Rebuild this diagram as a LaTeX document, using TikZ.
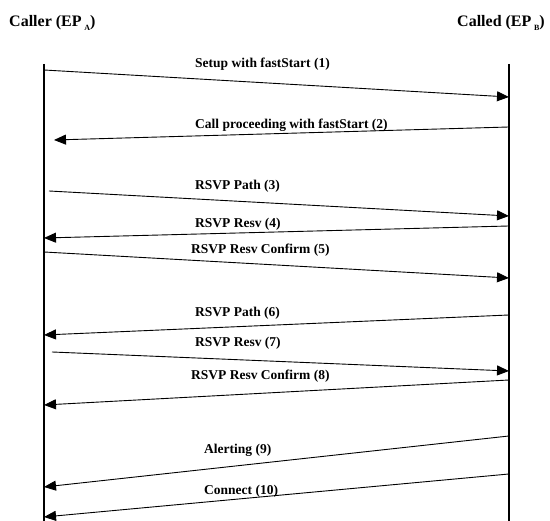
\documentclass[tikz,border=0pt]{standalone}
\usepackage{fontspec}
\setmainfont{Liberation Serif}
\usetikzlibrary{arrows.meta}
\begin{document}
\begin{tikzpicture}[x=1pt,y=1pt,
  msg/.style={-{Triangle[length=12pt,width=10pt]}, line width=0.9pt},
  life/.style={line width=1.3pt},
  lbl/.style={font=\bfseries\fontsize{13.5}{15}\selectfont, anchor=base west, inner sep=0pt},
  hdr/.style={font=\bfseries\fontsize{16}{18}\selectfont, anchor=base west, inner sep=0pt}]
\useasboundingbox (0,0) rectangle (550,521);
% headers
\node[hdr] (caller) at (9,494) {Caller (EP\,\raisebox{-4pt}{\fontsize{8}{9}\selectfont A})};
\node[hdr] (called) at (457,494) {Called (EP\,\raisebox{-4pt}{\fontsize{8}{9}\selectfont B})};
% lifelines
\coordinate (Atop) at (44,457); \coordinate (Abot) at (44,0);
\coordinate (Btop) at (509,457); \coordinate (Bbot) at (509,0);
\draw[life] (Atop) -- (Abot);
\draw[life] (Btop) -- (Bbot);
% message end points
\coordinate (a1) at (44,451);  \coordinate (b1) at (509,424);
\coordinate (b2) at (509,394); \coordinate (a2) at (54,381);
\coordinate (a3) at (49,330);  \coordinate (b3) at (509,305);
\coordinate (b4) at (509,295); \coordinate (a4) at (44,283);
\coordinate (a5) at (44,269);  \coordinate (b5) at (509,243);
\coordinate (b6) at (509,206); \coordinate (a6) at (44,186);
\coordinate (a7) at (52,169);  \coordinate (b7) at (509,150);
\coordinate (b8) at (509,141); \coordinate (a8) at (44,116);
\coordinate (b9) at (509,85);  \coordinate (a9) at (44,34);
\coordinate (b10) at (509,47); \coordinate (a10) at (44,4);
\draw[msg] (a1) -- (b1);
\draw[msg] (b2) -- (a2);
\draw[msg] (a3) -- (b3);
\draw[msg] (b4) -- (a4);
\draw[msg] (a5) -- (b5);
\draw[msg] (b6) -- (a6);
\draw[msg] (a7) -- (b7);
\draw[msg] (b8) -- (a8);
\draw[msg] (b9) -- (a9);
\draw[msg] (b10) -- (a10);
% labels
\node[lbl] (l1) at (195,453) {Setup with fastStart (1)};
\node[lbl] (l2) at (195,392) {Call proceeding with fastStart (2)};
\node[lbl] (l3) at (195,331) {RSVP Path (3)};
\node[lbl] (l4) at (195,293) {RSVP Resv (4)};
\node[lbl] (l5) at (191,267) {RSVP Resv Confirm (5)};
\node[lbl] (l6) at (195,204) {RSVP Path (6)};
\node[lbl] (l7) at (195,174) {RSVP Resv (7)};
\node[lbl] (l8) at (191,141) {RSVP Resv Confirm (8)};
\node[lbl] (l9) at (204,67) {Alerting (9)};
\node[lbl] (l10) at (204,26) {Connect (10)};
\end{tikzpicture}
\end{document}
